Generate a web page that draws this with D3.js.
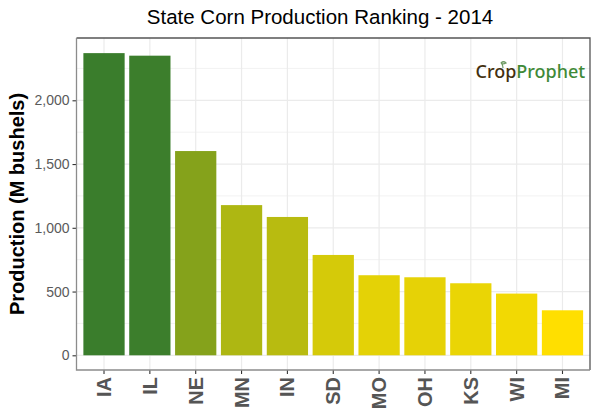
<!DOCTYPE html>
<html>
<head>
<meta charset="utf-8">
<script src="https://cdn.jsdelivr.net/npm/d3@7"></script>
<style>
  html, body { margin: 0; padding: 0; background: #fff; }
  svg { display: block; font-family: "Liberation Sans", Arial, sans-serif; }
</style>
</head>
<body>
<div id="chart"></div>
<script>
// Values
const states = ["IA", "IL", "NE", "MN", "IN", "SD", "MO", "OH", "KS", "WI", "MI"];
const production = [2370, 2350, 1602, 1178, 1085, 787, 628, 612, 565, 484, 353];
const yTicks = [0, 500, 1000, 1500, 2000];
const yMinorTicks = [250, 750, 1250, 1750, 2250];

const width = 600, height = 420;
const panel = { left: 76.5, right: 590, top: 38, bottom: 370 };

const svg = d3.select("#chart").append("svg")
    .attr("width", width)
    .attr("height", height);

// paddingOuter is chosen so the band ends sit 0.6 steps out from the first and last bar centre
const x = d3.scaleBand()
    .domain(states)
    .range([panel.left, panel.right])
    .paddingInner(0.1)
    .paddingOuter(0.15);

const y = d3.scaleLinear()
    .domain([0, 2000])
    .range([355.3, 100.3]);

const color = d3.scaleLinear()
    .domain([d3.min(production), d3.max(production)])
    .range(["#ffdf00", "#3a7d2c"]);

// Grid
const grid = svg.append("g").attr("fill", "none");
grid.selectAll(".minor")
    .data(yMinorTicks)
    .join("line")
    .attr("x1", panel.left).attr("x2", panel.right)
    .attr("y1", d => y(d)).attr("y2", d => y(d))
    .attr("stroke", "#f2f2f2").attr("stroke-width", 1);
grid.selectAll(".major")
    .data(yTicks)
    .join("line")
    .attr("x1", panel.left).attr("x2", panel.right)
    .attr("y1", d => y(d)).attr("y2", d => y(d))
    .attr("stroke", "#ebebeb").attr("stroke-width", 1.2);
grid.selectAll(".vert")
    .data(states)
    .join("line")
    .attr("x1", d => x(d) + x.bandwidth() / 2).attr("x2", d => x(d) + x.bandwidth() / 2)
    .attr("y1", panel.top).attr("y2", panel.bottom)
    .attr("stroke", "#ebebeb").attr("stroke-width", 1.2);

// Bars
svg.append("g").selectAll("rect")
    .data(states)
    .join("rect")
    .attr("x", d => x(d))
    .attr("width", x.bandwidth())
    .attr("y", (d, i) => y(production[i]))
    .attr("height", (d, i) => y(0) - y(production[i]))
    .attr("fill", (d, i) => color(production[i]));

// Logo
const logo = svg.append("g");
logo.append("text")
    .attr("x", 475.5).attr("y", 78)
    .attr("font-family", "'Noto Sans', sans-serif")
    .attr("font-size", 18)
    .attr("font-weight", 500)
    .selectAll("tspan")
    .data([["Crop", "#43300f"], ["Prophet", "#3f8a38"]])
    .join("tspan")
    .attr("fill", d => d[1])
    .text(d => d[0]);
logo.append("path")
    .attr("d", "M503 68 C503 65 502 64 501 62 M501 63 C503 61 505 62 506 63 C504 64 502 64 501 63")
    .attr("fill", "none")
    .attr("stroke", "#6d9a63")
    .attr("stroke-width", 1.2);

// Axes
const xAxis = d3.axisBottom(x).tickSize(4).tickPadding(4);
const gx = svg.append("g")
    .attr("transform", `translate(0,${panel.bottom})`)
    .call(xAxis);
gx.select(".domain").remove();
gx.selectAll("line").attr("stroke", "#333").attr("stroke-width", 1.1);
gx.selectAll("text")
    .attr("text-anchor", "end")
    .attr("dy", null)
    .attr("y", null)
    .attr("transform", "translate(7,7) rotate(-90)")
    .attr("fill", "#555")
    .attr("font-size", 20)
    .attr("font-weight", "bold")
    .attr("font-family", "'Liberation Sans', Arial, sans-serif");

const yAxis = d3.axisLeft(y).tickValues(yTicks).tickFormat(d3.format(",")).tickSize(4).tickPadding(3);
const gy = svg.append("g")
    .attr("transform", `translate(${panel.left},0)`)
    .call(yAxis);
gy.select(".domain").remove();
gy.selectAll("line").attr("stroke", "#333").attr("stroke-width", 1.1);
gy.selectAll("text")
    .attr("fill", "#5a5a5a")
    .attr("font-size", 14)
    .attr("font-family", "'Liberation Sans', Arial, sans-serif");

// Panel border: left and bottom edges look lighter than top and right
const border = svg.append("g").attr("stroke-width", 1.3);
border.append("path")
    .attr("d", d3.line()([[panel.left, panel.top], [panel.right, panel.top], [panel.right, panel.bottom]]))
    .attr("fill", "none")
    .attr("stroke", "#555");
border.append("path")
    .attr("d", d3.line()([[panel.left, panel.top], [panel.left, panel.bottom], [panel.right, panel.bottom]]))
    .attr("fill", "none")
    .attr("stroke", "#8c8c8c");

// Titles
svg.append("text")
    .attr("x", 320).attr("y", 23.5)
    .attr("text-anchor", "middle")
    .attr("font-size", 20.5)
    .attr("fill", "#000")
    .text("State Corn Production Ranking - 2014");

svg.append("text")
    .attr("transform", "translate(23.5,204) rotate(-90)")
    .attr("text-anchor", "middle")
    .attr("font-size", 20)
    .attr("font-weight", "bold")
    .attr("fill", "#000")
    .text("Production (M bushels)");
</script>
</body>
</html>
